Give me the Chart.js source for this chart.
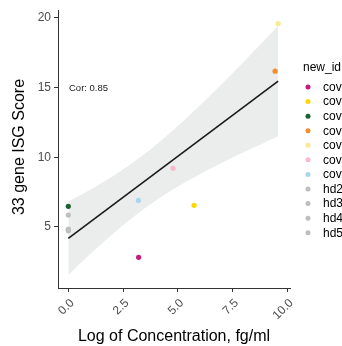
<!DOCTYPE html>
<html>
<head>
<meta charset="utf-8">
<script src="https://cdn.jsdelivr.net/npm/chart.js@4"></script>
<style>
  html, body { margin: 0; padding: 0; background: #fff; }
  #wrap { width: 342px; height: 346px; position: relative; }
</style>
</head>
<body>
<div id="wrap"><canvas id="chart" width="342" height="346"></canvas></div>
<script>
// --- данные ---
const ids = ["cov1", "cov2", "cov3", "cov4", "cov5", "cov6", "cov7", "hd2", "hd3", "hd4", "hd5"];
const idColors = ["#C51B7D", "#FFD700", "#1B6131", "#F28E2B", "#FBE98F", "#F9B9C8", "#A9D8E8",
                  "#BEBEBE", "#BEBEBE", "#BEBEBE", "#BEBEBE"];
const logConc = [3.21, 5.74, 0.0, 9.44, 9.58, 4.78, 3.2, 0.0, 0.0, 0.0, 0.0];
const isgScore = [2.82, 6.55, 6.48, 16.17, 19.58, 9.2, 6.9, 5.85, 4.85, 4.72, 4.78];

// линия регрессии и доверительная полоса
const fitX = [0.0, 9.58];
const fitY = [4.18, 15.45];
const bandX = [0, 1, 2, 3, 4, 5, 6, 7, 8, 9, 9.58];
const bandUpper = [6.83, 7.67, 8.6, 9.67, 10.87, 12.23, 13.7, 15.23, 16.83, 18.45, 19.42];
const bandLower = [1.53, 3.05, 4.46, 5.75, 6.89, 7.89, 8.78, 9.59, 10.35, 11.07, 11.48];

const xTicks = [0, 2.5, 5, 7.5, 10];
const yTicks = [5, 10, 15, 20];

const FONT = "'Liberation Sans', Arial, Helvetica, sans-serif";
const toPts = (xs, ys) => xs.map((x, i) => ({ x, y: ys[i] }));

// --- подписи осей, Cor и легенда ---
const extras = {
  id: "extras",
  afterDraw(chart) {
    const ctx = chart.ctx;
    ctx.save();
    ctx.fillStyle = "#000";
    ctx.font = "16px " + FONT;
    ctx.textAlign = "center";
    ctx.textBaseline = "middle";
    ctx.fillText("Log of Concentration, fg/ml", 174, 337);
    ctx.save();
    ctx.translate(20, 147);
    ctx.rotate(-Math.PI / 2);
    ctx.fillText("33 gene ISG Score", 0, 0);
    ctx.restore();

    ctx.font = "9.5px " + FONT;
    ctx.textAlign = "left";
    ctx.fillStyle = "#1a1a1a";
    ctx.fillText("Cor: 0.85", 69, 88);

    // легенда
    ctx.font = "12px " + FONT;
    ctx.fillStyle = "#000";
    ctx.fillText("new_id", 303, 68);
    ids.forEach((name, i) => {
      const cy = 87 + i * 14.57;
      ctx.beginPath();
      ctx.arc(308, cy, 2.5, 0, Math.PI * 2);
      ctx.fillStyle = idColors[i];
      ctx.fill();
      ctx.fillStyle = "#000";
      ctx.fillText(name, 323, cy + 0.5);
    });
    ctx.restore();
  }
};

const axisCommon = {
  type: "linear",
  grid: { drawOnChartArea: false, drawTicks: true, tickLength: 4, color: "#333", lineWidth: 1 },
  border: { display: true, color: "#333", width: 1 },
};

new Chart(document.getElementById("chart"), {
  type: "scatter",
  data: {
    datasets: [
      {
        data: toPts(logConc, isgScore),
        backgroundColor: idColors,
        borderWidth: 0,
        pointRadius: 2.6,
        order: 0,
      },
      {
        type: "line",
        data: toPts(fitX, fitY),
        borderColor: "#1a1a1a",
        borderWidth: 1.6,
        pointRadius: 0,
        fill: false,
        order: 1,
      },
      {
        type: "line",
        data: toPts(bandX, bandUpper),
        borderWidth: 0,
        borderColor: "rgba(0,0,0,0)",
        pointRadius: 0,
        tension: 0.3,
        fill: false,
        order: 2,
      },
      {
        type: "line",
        data: toPts(bandX, bandLower),
        borderWidth: 0,
        borderColor: "rgba(0,0,0,0)",
        backgroundColor: "#EBECEC",
        pointRadius: 0,
        tension: 0.3,
        fill: "-1",
        order: 3,
      },
    ],
  },
  options: {
    responsive: false,
    animation: false,
    events: [],
    layout: { padding: { top: 10, right: 52, left: 0, bottom: 0 } },
    plugins: { legend: { display: false }, tooltip: { enabled: false } },
    scales: {
      x: {
        ...axisCommon,
        min: -0.47,
        max: 10.12,
        afterBuildTicks: s => { s.ticks = xTicks.map(v => ({ value: v })); },
        afterFit: s => { s.height = 58; },
        ticks: {
          autoSkip: false,
          minRotation: 45,
          maxRotation: 45,
          padding: 4,
          labelOffset: 4,
          color: "#4D4D4D",
          font: { family: FONT, size: 12 },
          callback: v => v.toFixed(1),
        },
      },
      y: {
        ...axisCommon,
        min: 0.62,
        max: 20.54,
        afterBuildTicks: s => { s.ticks = yTicks.map(v => ({ value: v })); },
        afterFit: s => { s.width = 58; },
        ticks: {
          autoSkip: false,
          padding: 3,
          color: "#4D4D4D",
          font: { family: FONT, size: 12 },
        },
      },
    },
  },
  plugins: [extras],
});
</script>
</body>
</html>
